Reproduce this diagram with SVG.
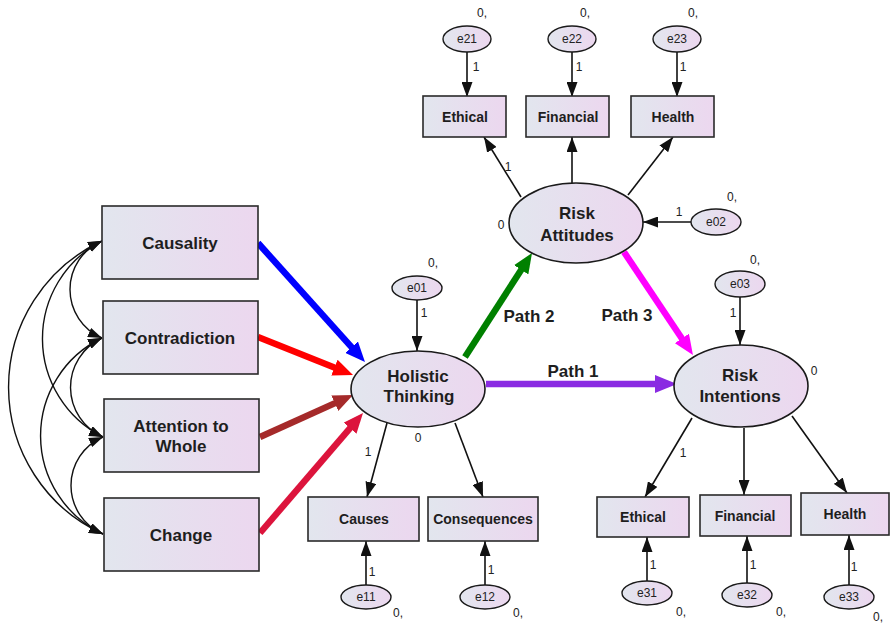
<svg xmlns="http://www.w3.org/2000/svg" width="890" height="624" viewBox="0 0 890 624">
  <style>
    .box { fill: url(#fillGrad); stroke: #2a2a2a; stroke-width: 1.6; }
    .lat { fill: url(#fillGrad); stroke: #1a1a1a; stroke-width: 1.6; }
    .err { fill: url(#fillGrad); stroke: #1a1a1a; stroke-width: 1.4; }
    .lbl { font-family: "Liberation Sans", Arial, sans-serif; font-weight: bold; fill: #1e1e1e; text-anchor: middle; }
    .big { font-size: 17px; }
    .mid { font-size: 14px; }
    .sm { font-family: "Liberation Sans", Arial, sans-serif; font-size: 12px; fill: #222; text-anchor: middle; }
    .arr { fill: none; stroke: #111; stroke-width: 1.6; marker-end: url(#ah); }
    .cov { fill: none; stroke: #111; stroke-width: 1.4; marker-start: url(#ah2); marker-end: url(#ah2); }
    .thick { fill: none; stroke-width: 6.5; }
  </style>
  <defs>
    <linearGradient id="fillGrad" x1="0" y1="0" x2="1" y2="0">
      <stop offset="0" stop-color="#e2e6ee"/>
      <stop offset="1" stop-color="#ecd7ef"/>
    </linearGradient>
    <marker id="ah" viewBox="0 0 15 11" refX="15" refY="5.5" markerWidth="15" markerHeight="11" markerUnits="userSpaceOnUse" orient="auto">
      <path d="M0,0 L15,5.5 L0,11 Z" fill="#111"/>
    </marker>
    <marker id="ah2" viewBox="0 0 14 10" refX="14" refY="5" markerWidth="14" markerHeight="10" markerUnits="userSpaceOnUse" orient="auto-start-reverse">
      <path d="M0,0 L14,5 L0,10 Z" fill="#111"/>
    </marker>
    <marker id="mBlue" viewBox="0 0 20 17" refX="10" refY="8.5" markerWidth="20" markerHeight="17" markerUnits="userSpaceOnUse" orient="auto">
      <path d="M0,0 L20,8.5 L0,17 Z" fill="#0000ff"/>
    </marker>
    <marker id="mRed" viewBox="0 0 20 17" refX="10" refY="8.5" markerWidth="20" markerHeight="17" markerUnits="userSpaceOnUse" orient="auto">
      <path d="M0,0 L20,8.5 L0,17 Z" fill="#ff0000"/>
    </marker>
    <marker id="mBrown" viewBox="0 0 20 17" refX="10" refY="8.5" markerWidth="20" markerHeight="17" markerUnits="userSpaceOnUse" orient="auto">
      <path d="M0,0 L20,8.5 L0,17 Z" fill="#a52a2a"/>
    </marker>
    <marker id="mCrimson" viewBox="0 0 20 17" refX="10" refY="8.5" markerWidth="20" markerHeight="17" markerUnits="userSpaceOnUse" orient="auto">
      <path d="M0,0 L20,8.5 L0,17 Z" fill="#dc143c"/>
    </marker>
    <marker id="mGreen" viewBox="0 0 20 17" refX="10" refY="8.5" markerWidth="20" markerHeight="17" markerUnits="userSpaceOnUse" orient="auto">
      <path d="M0,0 L20,8.5 L0,17 Z" fill="#008000"/>
    </marker>
    <marker id="mViolet" viewBox="0 0 22 18" refX="10" refY="9" markerWidth="22" markerHeight="18" markerUnits="userSpaceOnUse" orient="auto">
      <path d="M0,0 L22,9 L0,18 Z" fill="#8a2be2"/>
    </marker>
    <marker id="mMagenta" viewBox="0 0 20 17" refX="10" refY="8.5" markerWidth="20" markerHeight="17" markerUnits="userSpaceOnUse" orient="auto">
      <path d="M0,0 L20,8.5 L0,17 Z" fill="#ff00ff"/>
    </marker>
  </defs>

  <rect width="890" height="624" fill="#ffffff"/>

  <!-- connectors -->
  <g id="connectors">
    <!-- covariances among the four predictors -->
    <path class="cov" d="M102,241 A52.75,52.75 0 0 0 102,338"/>
    <path class="cov" d="M102,241 A110,110 0 0 0 103,437"/>
    <path class="cov" d="M102,241 A161.2,161.2 0 0 0 103,534"/>
    <path class="cov" d="M102,338 A54.3,54.3 0 0 0 103,437"/>
    <path class="cov" d="M102,338 A108.5,108.5 0 0 0 103,534"/>
    <path class="cov" d="M103,437 A52.75,52.75 0 0 0 103,534"/>

    <!-- predictors into Holistic Thinking -->
    <line class="thick" stroke="#0000ff" x1="258" y1="243" x2="358.3" y2="354.6" marker-end="url(#mBlue)"/>
    <line class="thick" stroke="#ff0000" x1="258" y1="337" x2="343.7" y2="371.3" marker-end="url(#mRed)"/>
    <line class="thick" stroke="#a52a2a" x1="260" y1="437" x2="343.9" y2="399.1" marker-end="url(#mBrown)"/>
    <line class="thick" stroke="#dc143c" x1="260" y1="533" x2="356.5" y2="420.6" marker-end="url(#mCrimson)"/>

    <!-- structural paths -->
    <line class="thick" stroke="#008000" x1="465" y1="357" x2="526.6" y2="261.4" marker-end="url(#mGreen)"/>
    <line class="thick" stroke="#8a2be2" stroke-width="7" x1="486" y1="384" x2="665" y2="384" marker-end="url(#mViolet)"/>
    <line class="thick" stroke="#ff00ff" x1="624" y1="252" x2="687.4" y2="346.7" marker-end="url(#mMagenta)"/>

    <!-- error terms and loadings: Risk Attitudes -->
    <line class="arr" x1="467" y1="52" x2="467" y2="97"/>
    <line class="arr" x1="572" y1="52" x2="572" y2="97"/>
    <line class="arr" x1="677" y1="52" x2="677" y2="97"/>
    <line class="arr" x1="521" y1="197" x2="484" y2="137"/>
    <line class="arr" x1="572" y1="183" x2="572" y2="137"/>
    <line class="arr" x1="628" y1="195" x2="673" y2="137"/>
    <line class="arr" x1="691" y1="222" x2="643" y2="222"/>

    <!-- Holistic Thinking -->
    <line class="arr" x1="417" y1="300" x2="417" y2="351"/>
    <line class="arr" x1="387" y1="423" x2="367" y2="497"/>
    <line class="arr" x1="455" y1="423" x2="483" y2="497"/>
    <line class="arr" x1="366" y1="585" x2="366" y2="541"/>
    <line class="arr" x1="485" y1="585" x2="485" y2="541"/>

    <!-- Risk Intentions -->
    <line class="arr" x1="740" y1="297" x2="740" y2="345"/>
    <line class="arr" x1="692" y1="418" x2="645" y2="497"/>
    <line class="arr" x1="744" y1="428" x2="744" y2="495"/>
    <line class="arr" x1="792" y1="416" x2="847" y2="493"/>
    <line class="arr" x1="647" y1="581" x2="647" y2="537"/>
    <line class="arr" x1="747" y1="583" x2="747" y2="536"/>
    <line class="arr" x1="849" y1="585" x2="849" y2="535"/>

    <!-- loading and intercept labels -->
    <text class="sm" x="476" y="71">1</text>
    <text class="sm" x="579" y="71">1</text>
    <text class="sm" x="683" y="71">1</text>
    <text class="sm" x="508" y="171">1</text>
    <text class="sm" x="679" y="216">1</text>
    <text class="sm" x="424" y="317">1</text>
    <text class="sm" x="733" y="317">1</text>
    <text class="sm" x="368" y="456">1</text>
    <text class="sm" x="372" y="576">1</text>
    <text class="sm" x="491" y="574">1</text>
    <text class="sm" x="683" y="457">1</text>
    <text class="sm" x="653" y="569">1</text>
    <text class="sm" x="753" y="569">1</text>
    <text class="sm" x="854" y="571">1</text>

    <text class="lbl big" x="529" y="322">Path 2</text>
    <text class="lbl big" x="573" y="377">Path 1</text>
    <text class="lbl big" x="627" y="321">Path 3</text>
  </g>

  <!-- observed predictors -->
  <g id="causality">
    <rect class="box" x="102" y="206" width="156" height="73"/>
    <text class="lbl big" x="180" y="249">Causality</text>
  </g>
  <g id="contradiction">
    <rect class="box" x="103" y="301" width="155" height="73"/>
    <text class="lbl big" x="180" y="344">Contradiction</text>
  </g>
  <g id="attention">
    <rect class="box" x="104" y="399" width="155" height="73"/>
    <text class="lbl big" x="181" y="432">Attention to</text>
    <text class="lbl big" x="181" y="452">Whole</text>
  </g>
  <g id="change">
    <rect class="box" x="104" y="498" width="155" height="73"/>
    <text class="lbl big" x="181" y="541">Change</text>
  </g>

  <!-- latent variables -->
  <g id="holistic">
    <ellipse class="lat" cx="418" cy="389" rx="67" ry="38"/>
    <text class="lbl big" x="418" y="382">Holistic</text>
    <text class="lbl big" x="419" y="402">Thinking</text>
    <text class="sm" x="418" y="442">0</text>
  </g>
  <g id="attitudes">
    <ellipse class="lat" cx="576" cy="223" rx="67" ry="40"/>
    <text class="lbl big" x="577" y="219">Risk</text>
    <text class="lbl big" x="577" y="241">Attitudes</text>
    <text class="sm" x="501" y="229">0</text>
  </g>
  <g id="intentions">
    <ellipse class="lat" cx="741" cy="386" rx="67" ry="41"/>
    <text class="lbl big" x="740" y="381">Risk</text>
    <text class="lbl big" x="740" y="402">Intentions</text>
    <text class="sm" x="814" y="375">0</text>
  </g>

  <!-- indicators of Risk Attitudes -->
  <g id="ra-ethical">
    <rect class="box" x="423" y="96" width="83" height="41"/>
    <text class="lbl mid" x="465" y="122">Ethical</text>
  </g>
  <g id="ra-financial">
    <rect class="box" x="526" y="96" width="83" height="41"/>
    <text class="lbl mid" x="568" y="122">Financial</text>
  </g>
  <g id="ra-health">
    <rect class="box" x="631" y="96" width="83" height="41"/>
    <text class="lbl mid" x="673" y="122">Health</text>
  </g>

  <!-- indicators of Holistic Thinking -->
  <g id="causes">
    <rect class="box" x="308" y="497" width="111" height="44"/>
    <text class="lbl mid" x="364" y="524">Causes</text>
  </g>
  <g id="consequences">
    <rect class="box" x="428" y="497" width="110" height="44"/>
    <text class="lbl mid" x="483" y="524">Consequences</text>
  </g>

  <!-- indicators of Risk Intentions -->
  <g id="ri-ethical">
    <rect class="box" x="597" y="497" width="92" height="40"/>
    <text class="lbl mid" x="643" y="522">Ethical</text>
  </g>
  <g id="ri-financial">
    <rect class="box" x="700" y="495" width="91" height="41"/>
    <text class="lbl mid" x="745" y="521">Financial</text>
  </g>
  <g id="ri-health">
    <rect class="box" x="801" y="493" width="88" height="42"/>
    <text class="lbl mid" x="845" y="519">Health</text>
  </g>

  <!-- error terms -->
  <g id="e21">
    <ellipse class="err" cx="467" cy="39" rx="24" ry="13"/>
    <text class="sm" x="467" y="43">e21</text>
    <text class="sm" x="482" y="17">0,</text>
  </g>
  <g id="e22">
    <ellipse class="err" cx="572" cy="39" rx="24" ry="13"/>
    <text class="sm" x="572" y="43">e22</text>
    <text class="sm" x="585" y="17">0,</text>
  </g>
  <g id="e23">
    <ellipse class="err" cx="677" cy="39" rx="24" ry="13"/>
    <text class="sm" x="677" y="43">e23</text>
    <text class="sm" x="693" y="17">0,</text>
  </g>
  <g id="e02">
    <ellipse class="err" cx="716" cy="222" rx="25" ry="13"/>
    <text class="sm" x="716" y="226">e02</text>
    <text class="sm" x="732" y="201">0,</text>
  </g>
  <g id="e01">
    <ellipse class="err" cx="417" cy="288" rx="25" ry="12"/>
    <text class="sm" x="417" y="292">e01</text>
    <text class="sm" x="433" y="267">0,</text>
  </g>
  <g id="e03">
    <ellipse class="err" cx="740" cy="284" rx="25" ry="13"/>
    <text class="sm" x="740" y="288">e03</text>
    <text class="sm" x="755" y="264">0,</text>
  </g>
  <g id="e11">
    <ellipse class="err" cx="366" cy="597" rx="25" ry="12"/>
    <text class="sm" x="366" y="601">e11</text>
    <text class="sm" x="398" y="617">0,</text>
  </g>
  <g id="e12">
    <ellipse class="err" cx="485" cy="597" rx="25" ry="12"/>
    <text class="sm" x="485" y="601">e12</text>
    <text class="sm" x="518" y="617">0,</text>
  </g>
  <g id="e31">
    <ellipse class="err" cx="647" cy="593" rx="25" ry="12"/>
    <text class="sm" x="647" y="597">e31</text>
    <text class="sm" x="681" y="616">0,</text>
  </g>
  <g id="e32">
    <ellipse class="err" cx="747" cy="595" rx="25" ry="12"/>
    <text class="sm" x="747" y="599">e32</text>
    <text class="sm" x="781" y="616">0,</text>
  </g>
  <g id="e33">
    <ellipse class="err" cx="849" cy="597" rx="25" ry="12"/>
    <text class="sm" x="849" y="601">e33</text>
    <text class="sm" x="878" y="621">0,</text>
  </g>
</svg>
